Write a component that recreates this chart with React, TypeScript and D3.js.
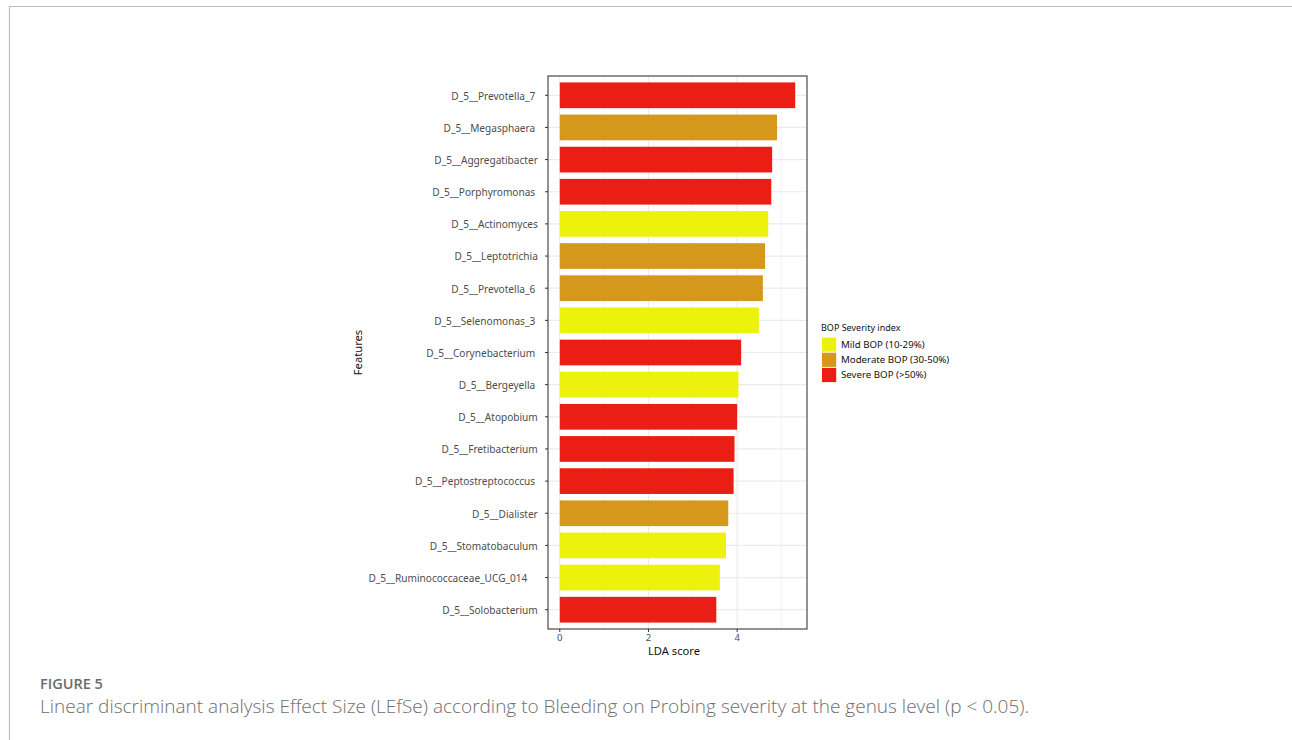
import React from "react";
import * as d3 from "d3";

const features = [
  "D_5__Prevotella_7 ",
  "D_5__Megasphaera ",
  "D_5__Aggregatibacter",
  "D_5__Porphyromonas ",
  "D_5__Actinomyces",
  "D_5__Leptotrichia",
  "D_5__Prevotella_6 ",
  "D_5__Selenomonas_3 ",
  "D_5__Corynebacterium ",
  "D_5__Bergeyella ",
  "D_5__Atopobium",
  "D_5__Fretibacterium",
  "D_5__Peptostreptococcus ",
  "D_5__Dialister",
  "D_5__Stomatobaculum",
  "D_5__Ruminococcaceae_UCG_014    ",
  "D_5__Solobacterium",
];
const ldaScores = [5.31, 4.9, 4.79, 4.77, 4.7, 4.63, 4.58, 4.49, 4.09, 4.03, 4.0, 3.94, 3.92, 3.8, 3.75, 3.61, 3.53];
const groups = [
  "Severe", "Moderate", "Severe", "Severe", "Mild", "Moderate", "Moderate", "Mild", "Severe",
  "Mild", "Severe", "Severe", "Severe", "Moderate", "Mild", "Mild", "Severe",
];
const groupKeys = ["Mild", "Moderate", "Severe"];
const groupLabels = ["Mild BOP (10-29%)", "Moderate BOP (30-50%)", "Severe BOP (>50%)"];
const groupColors = ["#ECF20C", "#D6981A", "#EA1E14"];
const xTicks = [0, 2, 4];
const xMinor = [1, 3, 5];

export default function App() {
  const left = 548, right = 807, top = 76, bottom = 629;
  const maxV = d3.max(ldaScores) as number;
  const pad = maxV * 0.05;
  const x = d3.scaleLinear().domain([0 - pad, maxV + pad]).range([left, right]);
  const y = d3.scaleBand<string>().domain(features).range([top, bottom]).paddingInner(0.2).paddingOuter(0.2);
  const color = d3.scaleOrdinal<string, string>().domain(groupKeys).range(groupColors);
  const font = "'Noto Sans', sans-serif";
  const axisCol = "#4d4d4d";

  return (
    <svg width={1292} height={740} style={{ position: "absolute", left: 0, top: 0, background: "#fff" }} fontFamily={font}>
      {/* page frame */}
      <path d="M9.5,740 V6.5 H1292" fill="none" stroke="#bdbdbd" strokeWidth={1.2} />

      {/* grid */}
      {xMinor.map((v) => (
        <line key={"mn" + v} x1={x(v)} x2={x(v)} y1={top} y2={bottom} stroke="#f2f2f2" strokeWidth={0.8} />
      ))}
      {xTicks.map((v) => (
        <line key={"mj" + v} x1={x(v)} x2={x(v)} y1={top} y2={bottom} stroke="#ebebeb" strokeWidth={1.2} />
      ))}
      {features.map((f) => (
        <line key={"hg" + f} x1={left} x2={right} y1={(y(f) as number) + y.bandwidth() / 2} y2={(y(f) as number) + y.bandwidth() / 2} stroke="#ebebeb" strokeWidth={1.2} />
      ))}

      {/* bars */}
      {features.map((f, i) => (
        <rect key={"b" + f} x={x(0)} y={y(f)} width={x(ldaScores[i]) - x(0)} height={y.bandwidth()} fill={color(groups[i])} />
      ))}

      {/* panel border */}
      <rect x={left} y={top} width={right - left} height={bottom - top} fill="none" stroke="#4a4a4a" strokeWidth={1.2} />

      {/* y axis */}
      {features.map((f) => {
        const cy = (y(f) as number) + y.bandwidth() / 2;
        return (
          <g key={"yl" + f}>
            <line x1={left - 3} x2={left} y1={cy} y2={cy} stroke="#333" strokeWidth={1} />
            <text x={537.8} y={cy + 0.8} dy="0.35em" textAnchor="end" fontSize={10.1} fill={axisCol} style={{ whiteSpace: "pre" }}>
              {f}
            </text>
          </g>
        );
      })}

      {/* x axis */}
      {xTicks.map((v) => (
        <g key={"xt" + v}>
          <line x1={x(v)} x2={x(v)} y1={bottom} y2={bottom + 3} stroke="#333" strokeWidth={1} />
          <text x={x(v)} y={bottom + 12.3} textAnchor="middle" fontSize={9.5} fill={axisCol}>
            {v}
          </text>
        </g>
      ))}
      <text x={674} y={655} textAnchor="middle" fontSize={11.2} fill="#111">LDA score</text>
      <text transform={`translate(362,${(top + bottom) / 2}) rotate(-90)`} textAnchor="middle" fontSize={11.2} fill="#111">Features</text>

      {/* legend */}
      <text x={821} y={331} fontSize={9} fill="#111">BOP Severity index</text>
      {groupKeys.map((g, i) => (
        <g key={"lg" + g}>
          <rect x={822} y={337.5 + i * 15.2} width={14.2} height={14.2} fill={color(g)} />
          <text x={841} y={337.5 + i * 15.2 + 7.1} dy="0.35em" fontSize={9.7} fill="#111">{groupLabels[i]}</text>
        </g>
      ))}

      {/* caption */}
      <text x={40} y={689} fontSize={14.5} fontWeight={600} fill="#6b6b6b" fontFamily="'Open Sans', sans-serif">FIGURE 5</text>
      <text x={40} y={713} fontSize={19} fontWeight={300} fill="#6e6e6e" fontFamily="'Open Sans', sans-serif">
        Linear discriminant analysis Effect Size (LEfSe) according to Bleeding on Probing severity at the genus level (p &lt; 0.05).
      </text>
    </svg>
  );
}
